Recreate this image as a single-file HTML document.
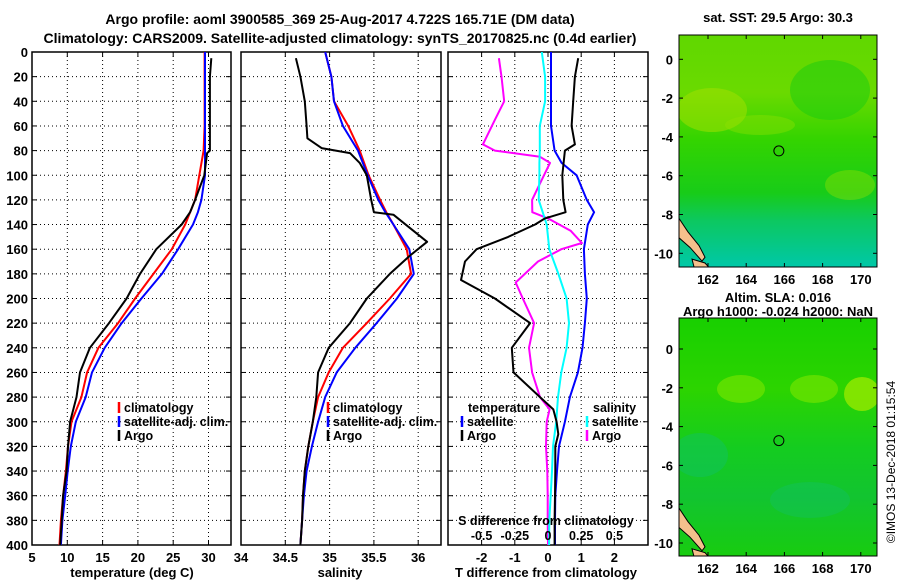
<!DOCTYPE html>
<html><head><meta charset="utf-8">
<style>
html,body{margin:0;padding:0;background:#fff;}
svg{display:block;font-family:"Liberation Sans",sans-serif;font-weight:bold;}
</style></head>
<body>
<svg id="chart" width="900" height="580" viewBox="0 0 900 580" xmlns="http://www.w3.org/2000/svg">
<defs>
<linearGradient id="sstGrad" x1="0" y1="0" x2="0" y2="1">
<stop offset="0" stop-color="#60d800"/><stop offset="0.25" stop-color="#6ada00"/><stop offset="0.45" stop-color="#34d400"/><stop offset="0.68" stop-color="#18cc18"/><stop offset="0.8" stop-color="#0cc860"/><stop offset="1" stop-color="#00c8a8"/>
</linearGradient>
<linearGradient id="slaGrad" x1="0" y1="0" x2="0" y2="1">
<stop offset="0" stop-color="#18d000"/><stop offset="0.3" stop-color="#2cd400"/><stop offset="0.55" stop-color="#14cc20"/><stop offset="0.75" stop-color="#12c430"/><stop offset="1" stop-color="#18cc10"/>
</linearGradient>
<clipPath id="clipT"><rect x="32" y="52" width="199" height="493"/></clipPath>
<clipPath id="clipS"><rect x="241" y="52" width="200" height="493"/></clipPath>
<clipPath id="clipD"><rect x="448" y="52" width="200" height="493"/></clipPath>
<clipPath id="clipM1"><rect x="679" y="35" width="198" height="232"/></clipPath>
<clipPath id="clipM2"><rect x="679" y="318" width="198" height="238"/></clipPath>
</defs>
<text x="340" y="24" font-size="14" text-anchor="middle">Argo profile: aoml 3900585_369 25-Aug-2017 4.722S 165.71E (DM data)</text>
<text x="340" y="43" font-size="14" text-anchor="middle">Climatology: CARS2009. Satellite-adjusted climatology: synTS_20170825.nc (0.4d earlier)</text>
<g id="layer"></g>
</svg>
<script>
// ---- data ----
const depths = [0,20,40,60,80,100,120,130,140,160,180,200,220,240,260,280,300,320,340,360,380,400];
const tempClim = [29.45,29.45,29.45,29.45,29.3,28.7,28.1,27.4,26.7,24.8,22.2,19.6,17.2,14.4,12.8,12.0,10.6,10.1,9.8,9.4,9.1,8.9];
const tempSat  = [29.5,29.5,29.5,29.5,29.5,29.5,29.0,28.5,27.8,25.7,23.4,20.5,17.7,15.3,13.5,12.6,11.2,10.5,10.05,9.7,9.3,9.1];
const argoTDepths = [5,20,40,60,80,82,100,120,130,140,160,180,200,220,240,260,280,300,320,340,360,380,400];
const tempArgo = [30.4,30.2,30.2,30.2,30.2,29.8,29.4,28.1,27.4,26.2,22.6,20.3,18.4,15.9,13.2,11.8,11.3,10.4,10.1,9.9,9.4,9.2,9.0];
const salClim = [34.95,35.02,35.05,35.21,35.34,35.44,35.57,35.64,35.72,35.87,35.92,35.68,35.42,35.15,34.99,34.87,34.81,34.76,34.72,34.70,34.69,34.67];
const salSat  = [34.95,35.02,35.05,35.15,35.32,35.43,35.55,35.63,35.72,35.9,35.95,35.76,35.53,35.29,35.08,34.95,34.87,34.8,34.74,34.71,34.69,34.67];
const argoSDepths = [5,20,40,60,70,78,82,90,100,120,130,132,154,165,180,200,220,240,260,280,300,320,340,360,380,400];
const salArgo = [34.62,34.67,34.72,34.74,34.75,34.91,35.23,35.34,35.42,35.47,35.5,35.72,36.1,35.91,35.68,35.42,35.23,34.99,34.87,34.85,34.81,34.76,34.72,34.70,34.69,34.67];
const diffTDepths = [5,20,40,60,75,80,100,120,130,135,140,150,160,170,185,200,220,240,260,280,290,300,310,320,340,360,380,400];
const tDiffArgo = [0.91,0.81,0.76,0.71,0.81,0.51,0.43,0.46,0.53,-0.09,-0.39,-1.2,-2.15,-2.5,-2.62,-1.6,-0.54,-1.09,-1.04,-0.24,0.16,0.26,0.31,0.22,0.22,0.21,0.2,0.2];
const diffSatDepths = [0,20,40,60,80,90,100,120,130,140,160,180,200,220,240,260,280,300,320,340,360,380,400];
const tDiffSat = [0.09,0.09,0.09,0.09,0.2,0.41,0.86,1.17,1.39,1.2,1.08,1.11,1.17,1.11,1.04,0.9,0.66,0.51,0.33,0.27,0.22,0.21,0.21];
const sDiffSat = [-0.047,-0.022,-0.022,-0.062,-0.062,-0.065,-0.065,-0.07,-0.04,-0.01,0.01,0.078,0.14,0.158,0.14,0.1,0.075,0.062,0.038,0.03,0.02,0.01,0.008];
const diffSArgoDepths = [5,20,40,55,75,80,85,90,110,120,130,135,145,155,160,170,187,200,220,240,260,280,290,300,320,340,360,380,400];
const sDiffArgo = [-0.37,-0.35,-0.33,-0.4,-0.49,-0.4,-0.06,0.015,-0.075,-0.12,-0.118,0,0.17,0.255,0.1,-0.075,-0.243,-0.19,-0.105,-0.143,-0.12,-0.06,0.012,-0.01,-0.015,-0.005,-0.002,-0.002,0];
const depthTicks = [0,20,40,60,80,100,120,140,160,180,200,220,240,260,280,300,320,340,360,380,400];
const tempTicks = [5,10,15,20,25,30];
const salTicks = [34,34.5,35,35.5,36];
const salTickLabels = ["34","34.5","35","35.5","36"];
const tDiffTicks = [-2,-1,0,1,2];
const sDiffTicks = [-0.5,-0.25,0,0.25,0.5];
const sDiffTickLabels = ["-0.5","-0.25","0","0.25","0.5"];
const lonTicks = [162,164,166,168,170];
const latTicks = [0,-2,-4,-6,-8,-10];

// ---- scales ----
const yD = d => 52 + d * (493/400);
const xT = t => 32 + (t - 5) * 7.06;
const xS = s => 241 + (s - 34) * 88.6;
const xDT = t => 548 + t * 33.2;
const xDS = s => 548 + s * 4 * 33.2;
const m1x = lon => 708 + (lon - 162) * 19.1;
const m1y = lat => 59.3 - lat * 19.4;
const m2y = lat => 349 - lat * 19.4;

const NS = "http://www.w3.org/2000/svg";
const layer = document.getElementById('layer');
function mk(tag, attrs, parent) {
  const e = document.createElementNS(NS, tag);
  for (const k in attrs) e.setAttribute(k, attrs[k]);
  (parent || layer).appendChild(e);
  return e;
}
function txt(x, y, s, anchor, size) {
  const t = mk('text', {x: x, y: y, 'font-size': size || 13, 'text-anchor': anchor || 'start'});
  t.textContent = s;
  return t;
}

function panel(name, x0, x1, xTicks, xs) {
  const g = mk('g', {});
  
  
  depthTicks.forEach(d => {
    if (d > 0 && d < 400) mk('line', {x1: x0, x2: x1, y1: yD(d), y2: yD(d), stroke: '#000', 'stroke-width': 1, 'stroke-dasharray': '1,3'}, g);
    mk('line', {x1: x0, x2: x0 + 5, y1: yD(d), y2: yD(d), stroke: '#000'}, g);
    mk('line', {x1: x1 - 5, x2: x1, y1: yD(d), y2: yD(d), stroke: '#000'}, g);
  });
  xTicks.forEach(v => {
    const x = xs(v);
    if (x > x0 + 1 && x < x1 - 1) {
      mk('line', {x1: x, x2: x, y1: 52, y2: 545, stroke: '#000', 'stroke-width': 1, 'stroke-dasharray': '1,3'}, g);
      mk('line', {x1: x, x2: x, y1: 52, y2: 57, stroke: '#000'}, g);
      mk('line', {x1: x, x2: x, y1: 540, y2: 545, stroke: '#000'}, g);
    }
  });
  mk('rect', {x: x0, y: 52, width: x1 - x0, height: 493, fill: 'none', stroke: '#000', 'stroke-width': 1.5}, g);
  return g;
}
function series(name, ds, vs, xs, color, w, clip) {
  const pts = ds.map((d, i) => xs(vs[i]).toFixed(1) + ',' + yD(d).toFixed(1)).join(' ');
  const p = mk('polyline', {points: pts, fill: 'none', stroke: color, 'stroke-width': w, 'clip-path': 'url(#' + clip + ')', 'stroke-linejoin': 'round'});
  
  
}
function legendEntry(name, x, y, color, label) {
  const g = mk('g', {});
  
  
  mk('line', {x1: x, x2: x, y1: y - 10, y2: y + 1, stroke: color, 'stroke-width': 2.5}, g);
  const t = mk('text', {x: x + 5, y: y, 'font-size': 12.5}, g);
  t.textContent = label;
}

// Panel 1: temperature
panel('temperature-panel', 32, 231, tempTicks, xT);
series('temp-climatology-line', depths, tempClim, xT, '#f00', 2, 'clipT');
series('temp-satellite-line', depths, tempSat, xT, '#00f', 2, 'clipT');
series('temp-argo-line', argoTDepths, tempArgo, xT, '#000', 2, 'clipT');
depthTicks.forEach(d => { txt(28, yD(d) + 5, String(d), 'end', 13); });
tempTicks.forEach(v => { txt(xT(v), 562, String(v), 'middle', 13); });
txt(132, 577, 'temperature (deg C)', 'middle', 13);
legendEntry('legend-climatology', 119, 412, '#f00', 'climatology');
legendEntry('legend-satellite-adj', 119, 426, '#00f', 'satellite-adj. clim.');
legendEntry('legend-argo', 119, 440, '#000', 'Argo');

// Panel 2: salinity
panel('salinity-panel', 241, 441, salTicks, xS);
series('sal-climatology-line', depths, salClim, xS, '#f00', 2, 'clipS');
series('sal-satellite-line', depths, salSat, xS, '#00f', 2, 'clipS');
series('sal-argo-line', argoSDepths, salArgo, xS, '#000', 2, 'clipS');
salTicks.forEach((v, i) => { txt(xS(v), 562, salTickLabels[i], 'middle', 13); });
txt(340, 577, 'salinity', 'middle', 13);
legendEntry('legend-s-climatology', 328, 412, '#f00', 'climatology');
legendEntry('legend-s-satellite-adj', 328, 426, '#00f', 'satellite-adj. clim.');
legendEntry('legend-s-argo', 328, 440, '#000', 'Argo');

// Panel 3: differences
panel('difference-panel', 448, 648, tDiffTicks, xDT);
series('s-diff-argo-line', diffSArgoDepths, sDiffArgo, xDS, '#f0f', 2, 'clipD');
series('s-diff-satellite-line', diffSatDepths, sDiffSat, xDS, '#0ff', 2, 'clipD');
series('t-diff-satellite-line', diffSatDepths, tDiffSat, xDT, '#00f', 2, 'clipD');
series('t-diff-argo-line', diffTDepths, tDiffArgo, xDT, '#000', 2, 'clipD');
tDiffTicks.forEach(v => { txt(xDT(v), 562, String(v), 'middle', 13); });
sDiffTicks.forEach((v, i) => { txt(xDS(v), 540, sDiffTickLabels[i], 'middle', 12.5); });
txt(546, 525, 'S difference from climatology', 'middle', 12.5);
txt(546, 577, 'T difference from climatology', 'middle', 13);
txt(468, 412, 'temperature', 'start', 12.5);
legendEntry('legend-t-satellite', 462, 426, '#00f', 'satellite');
legendEntry('legend-t-argo', 462, 440, '#000', 'Argo');
txt(593, 412, 'salinity', 'start', 12.5);
legendEntry('legend-s-diff-satellite', 587, 426, '#0ff', 'satellite');
legendEntry('legend-s-diff-argo', 587, 440, '#f0f', 'Argo');

// Maps
function mapPanel(name, top, bottom, ys, clip, grad, blobs) {
  const g = mk('g', {});
  
  
  mk('rect', {x: 679, y: top, width: 198, height: bottom - top, fill: 'url(#' + grad + ')'}, g);
  blobs.forEach(b => mk('ellipse', {cx: b[0], cy: b[1], rx: b[2], ry: b[3], fill: b[4], opacity: b[5], 'clip-path': 'url(#' + clip + ')'}, g));
  mk('polygon', {points: '679,' + ys(-8.2) + ' 688,' + ys(-8.9) + ' 699,' + ys(-9.6) + ' 705,' + ys(-10.2) + ' 702,' + ys(-10.4) + ' 690,' + ys(-9.7) + ' 679,' + ys(-9.2), fill: '#f5c08c', stroke: '#000', 'stroke-width': 1, 'clip-path': 'url(#' + clip + ')'}, g);
  mk('polygon', {points: '692,' + ys(-10.3) + ' 705,' + ys(-10.5) + ' 712,' + ys(-10.9) + ' 695,' + ys(-10.9), fill: '#f5c08c', stroke: '#000', 'stroke-width': 1, 'clip-path': 'url(#' + clip + ')'}, g);
  const fx = m1x(165.71), fy = ys(-4.722);
  const c = mk('circle', {cx: fx, cy: fy, r: 5, fill: 'none', stroke: '#000', 'stroke-width': 1}, g);
  
  
  mk('rect', {x: 679, y: top, width: 198, height: bottom - top, fill: 'none', stroke: '#000', 'stroke-width': 1}, g);
  lonTicks.forEach(v => {
    mk('line', {x1: m1x(v), x2: m1x(v), y1: bottom, y2: bottom - 4, stroke: '#000'}, g);
    mk('line', {x1: m1x(v), x2: m1x(v), y1: top, y2: top + 4, stroke: '#000'}, g);
    txt(m1x(v), bottom + 17, String(v), 'middle', 13);
  });
  latTicks.forEach(v => {
    mk('line', {x1: 679, x2: 683, y1: ys(v), y2: ys(v), stroke: '#000'}, g);
    mk('line', {x1: 873, x2: 877, y1: ys(v), y2: ys(v), stroke: '#000'}, g);
    txt(673, ys(v) + 5, String(v), 'end', 13);
  });
}
mapPanel('sst-map', 35, 267, m1y, 'clipM1', 'sstGrad',
  [[712,110,35,22,'#a0e000',0.55],[760,125,35,10,'#90e000',0.4],[850,185,25,15,'#98e000',0.4],[830,90,40,30,'#18cc10',0.5]]);
mapPanel('sla-map', 318, 556, m2y, 'clipM2', 'slaGrad',
  [[741,389,24,14,'#70e400',0.7],[814,389,24,14,'#70e400',0.7],[862,394,18,17,'#90e800',0.85],[700,455,28,22,'#10c070',0.4],[810,500,40,18,'#10c070',0.35]]);
txt(778, 22, 'sat. SST: 29.5 Argo: 30.3', 'middle', 13);
txt(778, 302, 'Altim. SLA: 0.016', 'middle', 13);
txt(778, 316, 'Argo h1000: -0.024 h2000: NaN', 'middle', 13);
const cr = mk('text', {x: 0, y: 0, 'font-size': 12, 'font-weight': 'normal', 'text-anchor': 'middle', transform: 'translate(895,462) rotate(-90)'});
cr.textContent = '©IMOS 13-Dec-2018 01:15:54';


</script>
</body></html>
